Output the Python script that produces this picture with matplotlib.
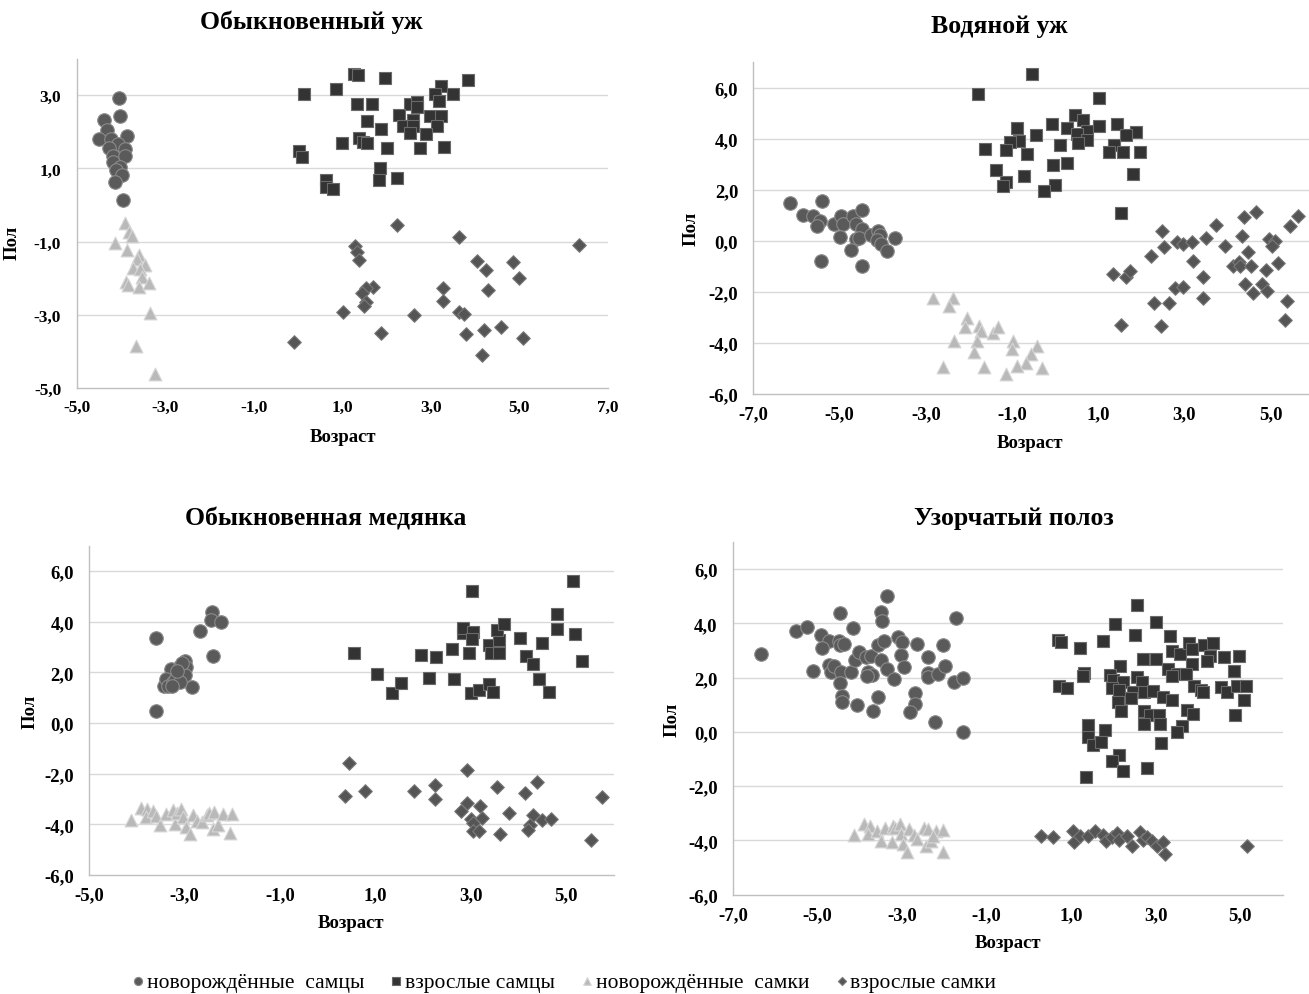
import matplotlib
matplotlib.use("Agg")
import matplotlib.pyplot as plt

plt.rcParams['font.family'] = ['Liberation Serif', 'DejaVu Serif']

W, H = 1309, 995

series_names = ["новорождённые  самцы", "взрослые самцы", "новорождённые  самки", "взрослые самки"]
titles = ["Обыкновенный уж", "Водяной уж", "Обыкновенная медянка", "Узорчатый полоз"]
x_label = "Возраст"
y_label = "Пол"

# ---------------- Обыкновенный уж ----------------
p1_nm_x = [-4.03, -4.01, -4.39, -4.31, -4.49, -4.21, -3.85, -4.06, -4.27, -3.90, -4.17, -3.91, -4.18, -4.02, -4.11, -3.98, -4.12, -3.94]
p1_nm_y = [2.93, 2.43, 2.33, 2.05, 1.81, 1.81, 1.88, 1.67, 1.56, 1.53, 1.35, 1.35, 1.19, 1.03, 0.97, 0.82, 0.64, 0.15]
p1_am_x = [1.27, 1.36, 1.96, 3.84, 0.14, 0.86, 3.24, 3.09, 3.50, 3.18, 1.33, 1.68, 2.54, 2.69, 2.69, 2.29, 2.98, 3.24, 1.56, 2.60,
           2.38, 2.60, 1.88, 3.15, 2.54, 2.89, 1.38, 1.47, 1.56, 0.99, 2.02, 2.75, 3.30, 0.02, 0.08, 1.85, 1.82, 2.23, 0.63, 0.63, 0.78]
p1_am_y = [3.59, 3.55, 3.48, 3.42, 3.04, 3.17, 3.25, 3.04, 3.04, 2.85, 2.75, 2.75, 2.75, 2.83, 2.67, 2.47, 2.43, 2.43, 2.30, 2.33,
           2.15, 2.15, 2.09, 2.15, 1.97, 1.94, 1.83, 1.73, 1.70, 1.70, 1.56, 1.56, 1.60, 1.49, 1.31, 1.01, 0.69, 0.75, 0.69, 0.50, 0.44]
p1_nf_x = [-3.90, -3.81, -3.75, -4.12, -3.86, -3.60, -3.64, -3.45, -3.72, -3.57, -3.53, -3.88, -3.83, -3.58, -3.36, -3.34, -3.66, -3.22]
p1_nf_y = [-0.50, -0.73, -0.85, -1.03, -1.22, -1.36, -1.47, -1.64, -1.73, -1.75, -1.97, -2.09, -2.18, -2.25, -2.14, -2.95, -3.84, -4.61]
p1_af_x = [2.23, 3.64, 6.34, 1.29, 1.34, 1.38, 4.05, 4.86, 4.25, 4.98, 1.69, 1.54, 1.44, 3.27, 4.30, 1.54, 1.50, 3.27, 1.01, 2.63,
           3.64, 3.74, 1.88, 3.79, 4.20, 4.58, 5.09, 4.16, -0.10]
p1_af_y = [-0.54, -0.86, -1.10, -1.13, -1.29, -1.50, -1.52, -1.55, -1.77, -1.98, -2.23, -2.27, -2.41, -2.26, -2.32, -2.64, -2.75, -2.61,
           -2.93, -3.00, -2.93, -2.98, -3.49, -3.52, -3.41, -3.34, -3.62, -4.09, -3.74]

# ---------------- Водяной уж ----------------
p2_nm_x = [-6.15, -5.86, -5.63, -5.42, -5.46, -5.53, -5.13, -4.97, -4.93, -4.70, -4.49, -4.61, -4.49, -4.99, -4.62, -4.55, -4.28, -4.12,
           -4.07, -4.13, -4.03, -3.91, -3.71, -4.74, -5.44, -4.49]
p2_nm_y = [1.48, 1.02, 0.99, 1.58, 0.77, 0.58, 0.67, 0.99, 0.67, 0.99, 1.23, 0.67, 0.48, 0.17, 0.08, 0.11, 0.24, 0.37,
           0.24, 0.04, -0.12, -0.40, 0.12, -0.34, -0.80, -0.99]
p2_am_x = [-1.78, -1.63, -0.53, 1.02, 0.46, 0.64, -0.08, 0.28, -0.88, 0.73, 0.51, 1.43, 1.02, 1.87, 1.64, -0.45, -0.83, -1.05, 0.73,
           0.54, 0.11, -1.13, -0.65, 1.36, 1.26, 1.57, 1.97, -1.37, -0.06, 0.28, -0.72, -1.13, -1.20, 0.00, -0.26, 1.80, 1.53]
p2_am_y = [5.75, 3.61, 6.53, 5.62, 4.92, 4.73, 4.57, 4.43, 4.43, 4.29, 4.20, 4.57, 4.51, 4.27, 4.17, 4.17, 3.92, 3.88, 3.94,
           3.84, 3.74, 3.55, 3.39, 3.77, 3.47, 3.49, 3.49, 2.79, 2.99, 3.04, 2.54, 2.31, 2.17, 2.20, 1.94, 2.63, 1.09]
p2_nf_x = [-2.83, -2.36, -2.46, -2.05, -2.09, -1.76, -1.73, -1.44, -1.32, -2.35, -1.81, -1.88, -2.61, -1.64, -0.99, -1.01, -0.42,
           -0.55, -0.68, -0.89, -1.14, -0.30]
p2_nf_y = [-2.25, -2.25, -2.54, -3.04, -3.39, -3.33, -3.52, -3.61, -3.39, -3.92, -3.94, -4.37, -4.96, -4.96, -3.92, -4.25, -4.11,
           -4.44, -4.79, -4.92, -5.23, -5.00]
p2_af_x = [1.35, 1.64, 1.74, 1.53, 2.47, 2.53, 2.22, 2.29, 2.65, 2.45, 2.82, 2.96, 3.17, 3.19, 2.78, 2.96, 3.44, 3.42, 3.51, 3.73,
           3.94, 4.33, 4.38, 4.65, 4.47, 4.12, 4.27, 4.30, 4.54, 4.41, 4.60, 4.81, 4.92, 4.89, 4.97, 5.10, 5.02, 5.16, 5.37, 5.33,
           5.45, 5.64]
p2_af_y = [-1.30, -1.43, -1.17, -3.30, 0.40, -0.25, -0.58, -2.45, -2.45, -3.33, -0.05, -0.12, -0.03, -0.77, -1.86, -1.82, -1.43,
           -2.25, 0.12, 0.64, -0.18, 0.18, 0.93, 1.13, -0.42, -0.99, -0.81, -0.99, -0.99, -1.69, -2.04, -1.69, -1.98, -1.13, 0.08,
           0.01, -0.21, -0.88, -2.35, -3.10, 0.58, 0.99]

# ---------------- Обыкновенная медянка ----------------
p3_nm_x = [-3.61, -3.59, -2.43, -2.45, -2.24, -2.68, -2.41, -2.85, -3.29, -3.43, -3.39, -3.34, -3.24, -3.15, -3.10, -2.99, -2.97,
           -3.04, -2.99, -3.20, -3.10, -3.27, -3.06, -3.17]
p3_nm_y = [3.36, 0.49, 4.39, 4.06, 3.97, 3.62, 2.65, 1.42, 2.14, 1.48, 1.75, 1.48, 1.61, 1.88, 2.27, 2.43, 2.21,
           1.94, 1.88, 1.68, 1.61, 1.48, 2.38, 2.07]
p3_am_x = [0.56, 1.04, 1.35, 1.54, 1.97, 2.12, 2.28, 2.61, 2.65, 2.84, 2.85, 3.06, 3.03, 2.96, 3.04, 3.00, 3.18, 3.39, 3.47, 3.39,
           3.43, 3.60, 3.60, 3.55, 3.71, 4.04, 4.17, 4.31, 4.49, 4.44, 4.65, 4.82, 4.82, 5.14, 5.19, 5.33]
p3_am_y = [2.76, 1.94, 1.18, 1.59, 2.70, 1.79, 2.60, 2.91, 1.75, 3.57, 3.76, 3.60, 3.33, 2.75, 5.21, 1.19, 1.32, 1.54, 1.22, 3.09,
           2.76, 2.76, 3.26, 3.66, 3.91, 3.36, 2.65, 2.34, 3.16, 1.75, 1.22, 4.32, 3.73, 5.60, 3.50, 2.43]
p3_nf_x = [-4.13, -3.92, -3.78, -3.81, -3.67, -3.59, -3.52, -3.39, -3.25, -3.20, -3.15, -3.08, -3.03, -2.97, -2.89, -2.83, -2.75,
           -2.64, -2.54, -2.48, -2.38, -2.41, -2.29, -2.20, -2.05, -2.01]
p3_nf_y = [-3.81, -3.34, -3.38, -3.70, -3.48, -3.68, -4.03, -3.61, -3.44, -4.00, -3.57, -3.38, -3.70, -4.10, -4.40, -3.65, -3.87,
           -3.91, -3.65, -3.57, -3.52, -4.20, -4.04, -3.61, -4.36, -3.61]
p3_af_x = [0.44, 0.37, 0.79, 1.81, 2.26, 2.26, 2.93, 2.93, 2.79, 3.20, 3.01, 3.24, 3.05, 3.06, 3.18, 3.55, 3.62, 3.81, 4.14, 4.40,
           4.31, 4.25, 4.21, 4.49, 4.68, 5.52, 5.76]
p3_af_y = [-1.59, -2.89, -2.68, -2.68, -2.45, -2.99, -1.86, -3.14, -3.48, -3.28, -3.78, -3.74, -3.96, -4.27, -4.27, -2.53, -4.40,
           -3.57, -2.75, -2.33, -3.65, -4.04, -4.23, -3.81, -3.78, -4.63, -2.93]

# ---------------- Узорчатый полоз ----------------
p4_nm_x = [-6.34, -5.51, -5.24, -4.92, -4.74, -4.90, -5.11, -4.74, -4.69, -4.61, -4.48, -4.49, -4.48, -4.37, -4.45, -4.47, -4.43,
           -4.43, -4.21, -4.17, -4.11, -4.01, -4.07, -3.85, -3.74, -3.80, -3.72, -3.84, -3.69, -3.56, -3.56, -3.50, -3.48, -3.43,
           -3.50, -3.35, -3.36, -3.19, -3.09, -3.01, -3.03, -2.95, -2.65, -2.69, -2.69, -2.81, -2.38, -2.40, -2.38, -2.16, -2.04,
           -1.98, -2.22, -1.72, -1.77, -1.55, -1.55]
p4_nm_y = [2.87, 3.73, 3.87, 3.58, 3.36, 3.08, 2.25, 2.46, 2.22, 2.41, 4.38, 3.36, 3.20, 3.24, 2.22, 1.80, 1.31,
           1.11, 2.22, 3.81, 2.66, 2.95, 0.99, 2.75, 2.78, 2.22, 2.09, 2.05, 0.78, 1.27, 3.20, 4.43, 4.10, 3.36,
           2.66, 2.32, 5.02, 1.95, 3.48, 3.30, 2.83, 2.38, 3.24, 1.42, 1.03, 0.74, 2.75, 2.17, 2.01, 2.13, 3.20,
           2.44, 0.37, 4.19, 1.85, 1.98, 0.00]
p4_am_x = [2.55, 2.04, 3.00, 2.51, 3.33, 0.68, 0.76, 1.75, 1.20, 3.38, 3.58, 3.78, 3.86, 4.15, 4.34, 4.27, 4.21, 4.60, 4.97, 4.85,
           2.70, 3.00, 3.86, 3.28, 3.50, 3.38, 3.72, 2.16, 1.31, 1.28, 1.92, 1.99, 2.55, 2.67, 2.22, 1.96, 2.14, 2.46, 2.71, 2.93,
           2.41, 3.17, 3.38, 3.91, 4.07, 4.12, 4.54, 4.69, 4.92, 5.13, 5.09, 0.72, 0.91, 2.10, 2.18, 2.71, 2.87, 3.07, 2.73, 3.11,
           3.74, 3.88, 3.62, 3.50, 4.88, 1.39, 1.80, 1.39, 1.51, 1.70, 3.12, 2.14, 1.96, 2.22, 2.79, 1.36]
p4_am_y = [4.67, 3.97, 4.04, 3.58, 3.54, 3.40, 3.30, 3.36, 3.08, 2.99, 2.87, 3.27, 3.05, 3.20, 3.27, 2.81, 2.62, 2.75, 2.78, 2.23,
           2.68, 2.68, 2.50, 2.32, 2.13, 2.05, 2.13, 2.41, 2.17, 2.05, 2.09, 1.92, 2.01, 1.85, 1.85, 1.60, 1.55, 1.46, 1.48, 1.52,
           1.24, 1.27, 1.18, 1.70, 1.55, 1.46, 1.64, 1.46, 1.70, 1.70, 1.17, 1.68, 1.60, 1.09, 0.78, 0.78, 0.62, 0.62, 0.29, 0.29,
           0.82, 0.66, 0.20, -0.02, 0.62, 0.25, 0.08, -0.20, -0.48, -0.36, -0.41, -0.85, -1.06, -1.43, -1.33, -1.68]
p4_nf_x = [-4.15, -3.90, -3.77, -3.80, -3.60, -3.50, -3.40, -3.22, -3.17, -3.06, -3.24, -3.03, -2.98, -2.89, -2.83, -2.73, -2.64,
           -2.48, -2.40, -2.43, -2.32, -2.20, -2.04, -2.04, -2.27]
p4_nf_y = [-3.80, -3.40, -3.46, -3.76, -3.64, -4.01, -3.55, -3.46, -3.55, -3.40, -4.05, -3.76, -4.13, -4.44, -3.58, -3.80, -3.95,
           -3.55, -3.58, -4.22, -4.01, -3.64, -3.61, -4.44, -3.83]
p4_af_x = [0.28, 0.57, 1.05, 1.07, 1.21, 1.39, 1.57, 1.75, 1.83, 1.96, 2.08, 2.14, 2.32, 2.44, 2.62, 2.70, 2.79, 2.91, 3.03, 3.17,
           3.22, 5.16]
p4_af_y = [-3.83, -3.89, -3.64, -4.07, -3.85, -3.83, -3.64, -3.80, -4.01, -3.89, -3.73, -3.97, -3.85, -4.20, -3.68, -3.97, -3.89,
           -4.01, -4.22, -4.07, -4.50, -4.22]

panels = [
    dict(title=titles[0], data=[(p1_nm_x, p1_nm_y), (p1_am_x, p1_am_y), (p1_nf_x, p1_nf_y), (p1_af_x, p1_af_y)],
         xlim=(-5, 7), ylim=(-5, 4), xticks=[-5, -3, -1, 1, 3, 5, 7], yticks=[-5, -3, -1, 1, 3], tfs=12.5,
         px=(76.5, 608, 59.7, 389), title_pos=(311, 22), xl_pos=(343, 438), yl_pos=(12, 243)),
    dict(title=titles[1], data=[(p2_nm_x, p2_nm_y), (p2_am_x, p2_am_y), (p2_nf_x, p2_nf_y), (p2_af_x, p2_af_y)],
         xlim=(-7, 5.89), ylim=(-6, 7), xticks=[-7, -5, -3, -1, 1, 3, 5], yticks=[-6, -4, -2, 0, 2, 4, 6], tfs=13.5,
         px=(753.5, 1309, 63.3, 395), title_pos=(999, 27), xl_pos=(1030, 444), yl_pos=(691, 229)),
    dict(title=titles[2], data=[(p3_nm_x, p3_nm_y), (p3_am_x, p3_am_y), (p3_nf_x, p3_nf_y), (p3_af_x, p3_af_y)],
         xlim=(-5, 6), ylim=(-6, 7), xticks=[-5, -3, -1, 1, 3, 5], yticks=[-6, -4, -2, 0, 2, 4, 6], tfs=13.5,
         px=(89.3, 613.5, 546.7, 876), title_pos=(326, 519), xl_pos=(351, 924), yl_pos=(30, 712)),
    dict(title=titles[3], data=[(p4_nm_x, p4_nm_y), (p4_am_x, p4_am_y), (p4_nf_x, p4_nf_y), (p4_af_x, p4_af_y)],
         xlim=(-7, 6), ylim=(-6, 7), xticks=[-7, -5, -3, -1, 1, 3, 5], yticks=[-6, -4, -2, 0, 2, 4, 6], tfs=13.5,
         px=(733, 1282.7, 542.9, 895.7), title_pos=(1014, 519), xl_pos=(1008, 944), yl_pos=(672, 720)),
]

styles = [
    dict(marker='o', s=95, color='#5a5a5a', edgecolors='#8a8a8a', linewidths=0.8, zorder=3),
    dict(marker='s', s=80, color='#333333', edgecolors='#6a6a6a', linewidths=0.8, zorder=3),
    dict(marker='^', s=85, color='#b9b9b9', edgecolors='#d6d6d6', linewidths=0.8, zorder=3),
    dict(marker='D', s=48, color='#555555', edgecolors='#7a7a7a', linewidths=0.8, zorder=3),
]

def fmt(v):
    return f"{v:.1f}".replace('.', ',')

fig = plt.figure(figsize=(W / 100, H / 100), dpi=100)
handles = []
for i, p in enumerate(panels):
    x0, x1, y0, y1 = p['px']
    ax = fig.add_axes([x0 / W, 1 - y1 / H, (x1 - x0) / W, (y1 - y0) / H])
    for j, (xs, ys) in enumerate(p['data']):
        h = ax.scatter(xs, ys, **styles[j], label=series_names[j])
        if i == 0:
            handles.append(h)
    ax.set_xlim(*p['xlim'])
    ax.set_ylim(*p['ylim'])
    ax.set_xticks(p['xticks'])
    ax.set_yticks(p['yticks'])
    ax.set_xticklabels([fmt(v) for v in p['xticks']], fontweight='bold', fontsize=p['tfs'])
    ax.set_yticklabels([fmt(v) for v in p['yticks']], fontweight='bold', fontsize=p['tfs'])
    ax.tick_params(length=0, pad=8)
    ax.tick_params(axis='y', pad=11)
    for side in ['top', 'right']:
        ax.spines[side].set_visible(False)
    for side in ['left', 'bottom']:
        ax.spines[side].set_color('#bfbfbf')
        ax.spines[side].set_linewidth(1.0)
    for yv in p['yticks']:
        if yv != p['ylim'][0]:
            ax.axhline(yv, color='#d9d9d9', linewidth=1.0, zorder=1)
    ax.set_facecolor('none')
    tx, ty = p['title_pos']
    fig.text(tx / W, 1 - ty / H, p['title'], ha='center', va='center', fontweight='bold', fontsize=18.5)
    lx, ly = p['xl_pos']
    fig.text(lx / W, 1 - ly / H, x_label, ha='center', va='center', fontweight='bold', fontsize=13.5)
    yx, yy = p['yl_pos']
    fig.text(yx / W, 1 - yy / H, y_label, ha='center', va='center', fontweight='bold', fontsize=13.5, rotation=90)

fig.legend(handles=handles, labels=series_names, loc='center', bbox_to_anchor=(564 / W, 1 - 983 / H),
           ncol=4, frameon=False, fontsize=15.5, handletextpad=0.1, columnspacing=1.2, markerscale=0.6,
           borderaxespad=0, handlelength=0.6)

fig.savefig('out.png', dpi=100, facecolor='white')
